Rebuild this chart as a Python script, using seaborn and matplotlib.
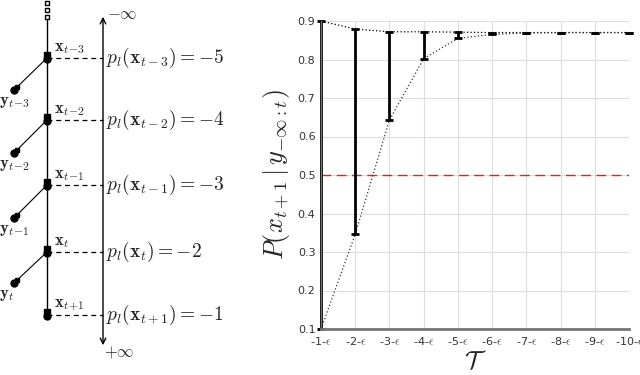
import numpy as np
import matplotlib
matplotlib.use("Agg")
import matplotlib.pyplot as plt
import seaborn as sns

# ---- data ----
steps = np.arange(1, 11)
tick_labels = [f"-{k}-$\\epsilon$" for k in steps]
upper = np.array([0.900, 0.879, 0.872, 0.872, 0.871, 0.870, 0.870, 0.870, 0.870, 0.870])
lower = np.array([0.100, 0.346, 0.643, 0.802, 0.855, 0.865, 0.869, 0.870, 0.870, 0.870])
threshold = 0.5

# diagram text
x_subs = ["t\\!-\\!3", "t\\!-\\!2", "t\\!-\\!1", "t", "t\\!+\\!1"]
p_subs = ["t-3", "t-2", "t-1", "t", "t+1"]
p_values = [-5, -4, -3, -2, -1]
y_subs = ["t\\!-\\!3", "t\\!-\\!2", "t\\!-\\!1", "t"]

sns.set_style("whitegrid")
plt.rcParams["font.family"] = ["DejaVu Sans"]
plt.rcParams["mathtext.fontset"] = "cm"

fig = plt.figure(figsize=(6.4, 3.75), dpi=100)

# ---- left: chain diagram (pixel coords) ----
axd = fig.add_axes([0, 0, 250 / 640, 1])
axd.set_xlim(0, 250)
axd.set_ylim(375, 0)
axd.axis("off")

chain_x = 47
node_y = [58, 120, 185, 252, 315]
obs_y = [90, 153, 218, 283]
arrow_x = 103

axd.plot([chain_x, chain_x], [20, node_y[-1]], color="k", lw=1)
for yy in [3, 10, 17]:
    axd.plot(chain_x, yy, marker="s", ms=3, mfc="white", mec="k", mew=1)

for i, ny in enumerate(node_y):
    axd.plot(chain_x, ny - 3, marker="s", ms=4, color="k")
    axd.plot(chain_x, ny + 1, marker="o", ms=5, color="k")
    axd.plot([chain_x, arrow_x], [ny, ny], color="k", lw=0.9, dashes=(4, 3))
    axd.text(chain_x + 7, ny - 11, f"$\\mathbf{{x}}_{{{x_subs[i]}}}$",
             fontsize=12, ha="left", va="center")
    axd.text(arrow_x + 3, ny, f"$p_l(\\mathbf{{x}}_{{{p_subs[i]}}}) = {p_values[i]}$",
             fontsize=14, ha="left", va="center")

for i, oy in enumerate(obs_y):
    axd.plot([chain_x, 14], [node_y[i], oy], color="k", lw=0.8)
    axd.plot(14, oy, marker="o", ms=5, color="k")
    axd.plot(17, oy - 3, marker="s", ms=3.5, color="k")
    axd.text(-1, oy + 11, f"$\\mathbf{{y}}_{{{y_subs[i]}}}$",
             fontsize=12, ha="left", va="center")

axd.annotate("", xy=(arrow_x, 14), xytext=(arrow_x, 348),
             arrowprops=dict(arrowstyle="<->", color="k", lw=1))
axd.text(arrow_x + 4, 14, "$-\\infty$", fontsize=12, ha="left", va="center")
axd.text(arrow_x + 1, 352, "$+\\infty$", fontsize=12, ha="left", va="center")

# ---- right: probability chart ----
ax = fig.add_axes([321 / 640, 1 - 329 / 375, 308 / 640, 308 / 375])
ax.axhline(threshold, color="#e8201c", lw=1, dashes=(7, 4))
sns.lineplot(x=steps, y=upper, ax=ax, color="k", lw=0.9, linestyle=(0, (1, 1.8)))
sns.lineplot(x=steps, y=lower, ax=ax, color="#333333", lw=0.9, linestyle=(0, (1, 1.8)))
eb = ax.errorbar(steps, upper, yerr=[upper - lower, np.zeros_like(upper)], fmt="none",
                 ecolor="k", elinewidth=2, capsize=3, capthick=2)
for art in eb.get_children():
    art.set_clip_on(False)

ax.set_xlim(1, 10)
ax.set_ylim(0.1, 0.9)
ax.set_xticks(steps)
ax.set_xticklabels(tick_labels)
ax.set_yticks(np.round(np.arange(0.1, 0.91, 0.1), 1))
ax.grid(True, color="#dddddd", lw=0.8)
for side in ["top", "right"]:
    ax.spines[side].set_visible(False)
ax.spines["bottom"].set_color("#777777")
ax.spines["bottom"].set_linewidth(2)
ax.spines["left"].set_color("#777777")
ax.tick_params(axis="both", labelsize=8, colors="#333333", direction="in",
               length=3, pad=4)
ax.set_xlabel("$\\mathcal{T}$", fontsize=18, labelpad=2)
ax.set_ylabel("$P\\left(x_{t+1}\\,|\\,y_{-\\infty:t}\\right)$", fontsize=19, labelpad=4)

fig.savefig("out.png", dpi=100)
